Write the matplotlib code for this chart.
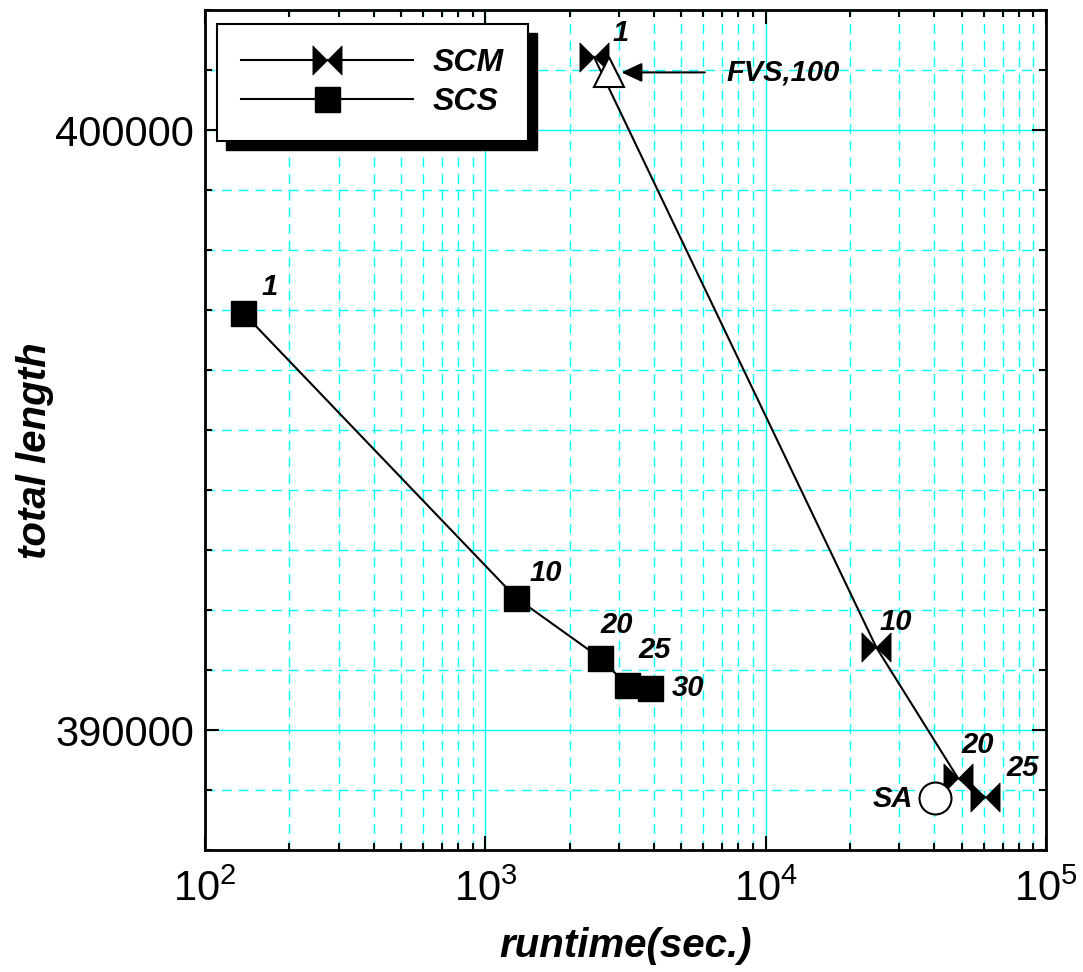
import matplotlib
matplotlib.use('Agg')
import matplotlib.pyplot as plt
from matplotlib.path import Path
from matplotlib.patches import Rectangle
from matplotlib.ticker import LogLocator, MultipleLocator, FixedLocator

plt.rcParams['font.family'] = ['Liberation Sans', 'DejaVu Sans']
plt.rcParams['mathtext.default'] = 'regular'

# data
scs_runtime = [137, 1290, 2570, 3200, 3870]
scs_length = [396950, 392200, 391200, 390750, 390700]
scs_labels = ['1', '10', '20', '25', '30']

scm_runtime = [2440, 24800, 48500, 60700]
scm_length = [401220, 391380, 389200, 388880]
scm_labels = ['1', '10', '20', '25']

fvs_runtime = [2760]
fvs_length = [400960]
sa_runtime = [40200]
sa_length = [388870]

# label offsets (points) for the point numbers
scs_offsets = [(19, 19), (21, 18), (12, 24), (20, 25), (27, 0)]
scm_offsets = [(19, 17), (14, 18), (14, 24), (27, 21)]

# bowtie marker: two triangles meeting at the tip
bowtie = Path([(-1, -1), (0, 0), (-1, 1), (-1, -1),
               (1, -1), (0, 0), (1, 1), (1, -1)],
              [Path.MOVETO, Path.LINETO, Path.LINETO, Path.CLOSEPOLY,
               Path.MOVETO, Path.LINETO, Path.LINETO, Path.CLOSEPOLY])

fig = plt.figure(figsize=(10.83, 9.72), dpi=100)
ax = fig.add_axes([0.1893, 0.1255, 0.7765, 0.8642])

ax.set_xscale('log')
ax.set_xlim(1e2, 1e5)
ax.set_ylim(388000, 402000)

# grid
ax.set_axisbelow(True)
ax.yaxis.set_major_locator(FixedLocator([390000, 400000]))
ax.yaxis.set_minor_locator(MultipleLocator(1000))
ax.xaxis.set_major_locator(LogLocator(base=10))
ax.xaxis.set_minor_locator(LogLocator(base=10, subs=range(2, 10)))
ax.grid(which='major', color='#00ffff', linestyle='-', linewidth=1.0)
ax.grid(which='minor', color='#00ffff', linestyle=(0, (7, 5)), linewidth=1.0)

ax.plot(scm_runtime, scm_length, color='k', lw=1.5, marker=bowtie,
        markersize=21, markerfacecolor='k', markeredgecolor='k',
        markeredgewidth=0.5, label='SCM', zorder=3)
ax.plot(scs_runtime, scs_length, color='k', lw=1.5, marker='s',
        markersize=18, markerfacecolor='k', markeredgecolor='k',
        label='SCS', zorder=3)
ax.plot(fvs_runtime, fvs_length, linestyle='none', marker='^', markersize=22,
        markerfacecolor='white', markeredgecolor='k', markeredgewidth=1.5,
        zorder=4)
ax.plot(sa_runtime, sa_length, linestyle='none', marker='o', markersize=23,
        markerfacecolor='white', markeredgecolor='k', markeredgewidth=1.5,
        zorder=4)

lab_font = dict(fontsize=21, fontweight='bold', fontstyle='italic')
for x, y, t, off in zip(scs_runtime, scs_length, scs_labels, scs_offsets):
    ax.annotate(t, (x, y), xytext=off, textcoords='offset points',
                ha='center', va='center', **lab_font)
for x, y, t, off in zip(scm_runtime, scm_length, scm_labels, scm_offsets):
    ax.annotate(t, (x, y), xytext=off, textcoords='offset points',
                ha='center', va='center', **lab_font)

ax.annotate('FVS,100', (fvs_runtime[0], fvs_length[0]), xytext=(85, 0),
            textcoords='offset points', ha='left', va='center',
            arrowprops=dict(arrowstyle='-|>,head_length=0.6,head_width=0.28',
                            color='k', lw=1.5, shrinkA=14, shrinkB=9),
            **lab_font)
ax.annotate('SA', (sa_runtime[0], sa_length[0]), xytext=(-16, -1),
            textcoords='offset points', ha='right', va='center', **lab_font)

# ticks and frame
ax.tick_params(which='both', direction='in', top=True, right=True,
               labelsize=30, width=1.5)
ax.tick_params(which='major', length=10, pad=8)
ax.tick_params(which='minor', length=5)
ax.tick_params(axis='x', which='major', pad=14)
ax.yaxis.set_major_formatter(plt.FuncFormatter(lambda v, p: '%d' % v))
for s in ax.spines.values():
    s.set_linewidth(2)

ax.set_xlabel('runtime(sec.)', fontsize=29, fontweight='bold',
              fontstyle='italic')
ax.xaxis.set_label_coords(0.5, -0.092)
ax.set_ylabel('total length', fontsize=29, fontweight='bold',
              fontstyle='italic')
ax.yaxis.set_label_coords(-0.18, 0.475)

leg = ax.legend(loc='upper left', bbox_to_anchor=(0.0143, 0.983),
                borderaxespad=0, fancybox=False, edgecolor='k',
                framealpha=1, numpoints=1, handlelength=5.4,
                handletextpad=0.6, labelspacing=0.28, borderpad=0.75,
                prop=dict(size=23, weight='bold', style='italic'))
leg.get_frame().set_linewidth(1.5)
leg.set_zorder(6)

# solid black drop shadow behind the legend box
fig.canvas.draw()
bb = leg.get_window_extent().transformed(fig.transFigure.inverted())
dx, dy = 9 / 1083, 9 / 972
ax.add_patch(Rectangle((bb.x0 + dx, bb.y0 - dy), bb.width, bb.height,
                       transform=fig.transFigure, facecolor='k',
                       edgecolor='k', zorder=5.9, clip_on=False))

fig.savefig('out.png', dpi=100)
